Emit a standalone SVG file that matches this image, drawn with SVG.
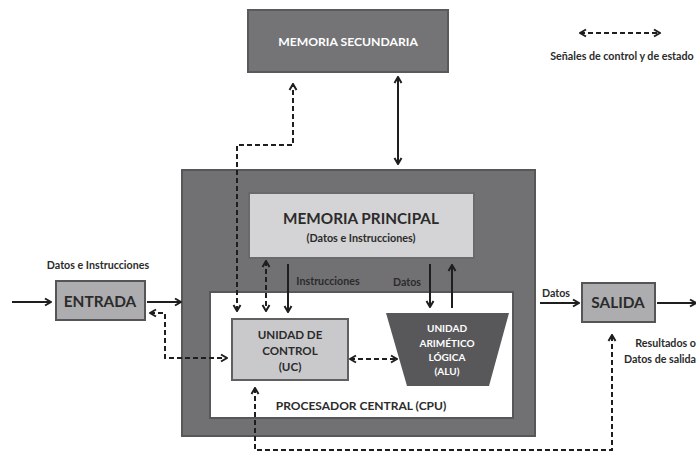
<svg xmlns="http://www.w3.org/2000/svg" width="696" height="453" viewBox="0 0 696 453">
  <style>
    text { font-family: Lato, "Open Sans", sans-serif; font-weight: bold; fill: #2b2b2b; text-anchor: middle; dominant-baseline: central; }
    .lbl { font-size: 10.7px; }
    .white { fill: #ffffff; }
    .solid { fill: none; stroke: #1e1e1e; stroke-width: 2; }
    .dash { fill: none; stroke: #1e1e1e; stroke-width: 2; stroke-dasharray: 5 3; }
  </style>
  <defs>
    <marker id="head" viewBox="0 0 10 10" refX="9" refY="5" markerWidth="10" markerHeight="10" markerUnits="userSpaceOnUse" orient="auto-start-reverse">
      <path d="M3,1.5 L9,5 L3,8.5" fill="none" stroke="#1e1e1e" stroke-width="2"/>
    </marker>
  </defs>

  <rect width="696" height="453" fill="#ffffff"/>

  <!-- CPU enclosure -->
  <g id="cpu">
    <rect x="182" y="170" width="353" height="266" fill="#717174" stroke="#57575a" stroke-width="2"/>
    <rect x="210" y="292" width="303" height="126" fill="#ffffff" stroke="#57575a" stroke-width="2"/>
    <text x="361" y="405" style="font-size:12px">PROCESADOR CENTRAL (CPU)</text>
  </g>

  <g id="memoria-secundaria">
    <rect x="248" y="10" width="200" height="62" fill="#747477" stroke="#5a5a5d" stroke-width="2"/>
    <text class="white" x="348" y="41" style="font-size:12.2px">MEMORIA SECUNDARIA</text>
  </g>

  <g id="memoria-principal">
    <rect x="249" y="193" width="225" height="65" fill="#d4d4d6" stroke="#69696c" stroke-width="2"/>
    <text x="361" y="218" style="font-size:15.3px">MEMORIA PRINCIPAL</text>
    <text x="361" y="237" style="font-size:10.8px">(Datos e Instrucciones)</text>
  </g>

  <g id="unidad-control">
    <rect x="232" y="319" width="116" height="61" fill="#c9c9cb" stroke="#606063" stroke-width="2"/>
    <text x="290" y="334" style="font-size:11.6px">UNIDAD DE</text>
    <text x="290" y="350" style="font-size:11.6px">CONTROL</text>
    <text x="290" y="366" style="font-size:11.6px">(UC)</text>
  </g>

  <g id="alu">
    <polygon points="386,313 509,313 489,386 407,386" fill="#58585b"/>
    <text class="white" x="447" y="328" style="font-size:10px">UNIDAD</text>
    <text class="white" x="447" y="343" style="font-size:10px">ARIMÉTICO</text>
    <text class="white" x="447" y="357" style="font-size:10px">LÓGICA</text>
    <text class="white" x="447" y="371" style="font-size:10px">(ALU)</text>
  </g>

  <g id="entrada">
    <rect x="56" y="281" width="89" height="39" fill="#adadb0" stroke="#555558" stroke-width="2"/>
    <text x="100" y="301" style="font-size:15.4px">ENTRADA</text>
  </g>

  <g id="salida">
    <rect x="582" y="283" width="73" height="39" fill="#adadb0" stroke="#555558" stroke-width="2"/>
    <text x="618" y="302" style="font-size:15.4px">SALIDA</text>
  </g>

  <!-- Connectors -->
  <g id="connectors">
    <!-- data flow -->
    <path class="solid" d="M12,302 H51" marker-end="url(#head)"/>
    <path class="solid" d="M147,302 H181" marker-end="url(#head)"/>
    <path class="solid" d="M398,77 V164" marker-start="url(#head)" marker-end="url(#head)"/>
    <path class="solid" d="M288,264 V312" marker-end="url(#head)"/>
    <path class="solid" d="M430,264 V307" marker-end="url(#head)"/>
    <path class="solid" d="M452,308 V265" marker-end="url(#head)"/>
    <path class="solid" d="M540,303 H579" marker-end="url(#head)"/>
    <path class="solid" d="M657,303 H696" marker-end="url(#head)"/>

    <!-- control and status signals -->
    <path class="dash" d="M150,313 H165 V358 H227" marker-start="url(#head)" marker-end="url(#head)"/>
    <path class="dash" d="M237,311 V145 H293 V84" marker-start="url(#head)" marker-end="url(#head)"/>
    <path class="dash" d="M266,261 V311" marker-start="url(#head)" marker-end="url(#head)"/>
    <path class="dash" d="M350,359 H397" marker-start="url(#head)" marker-end="url(#head)"/>
    <path class="dash" d="M255,388 V450 H612 V335" marker-start="url(#head)" marker-end="url(#head)"/>

    <!-- legend arrow -->
    <path class="dash" d="M580,33 H660" marker-start="url(#head)" marker-end="url(#head)"/>
  </g>

  <!-- Labels -->
  <g id="labels">
    <text class="lbl" x="98" y="264">Datos e Instrucciones</text>
    <text class="lbl" x="328" y="280">Instrucciones</text>
    <text class="lbl" x="407" y="281">Datos</text>
    <text class="lbl" x="556" y="292">Datos</text>
    <text class="lbl" x="696" y="342" style="text-anchor:end">Resultados o</text>
    <text class="lbl" x="696" y="358" style="text-anchor:end">Datos de salida</text>
    <text class="lbl" x="622" y="55">Señales de control y de estado</text>
  </g>
</svg>
